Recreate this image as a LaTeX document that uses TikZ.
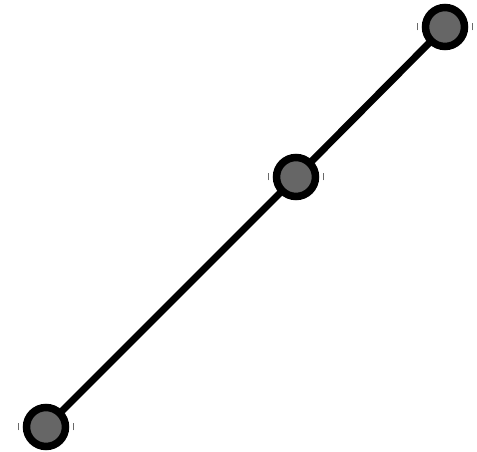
\documentclass[tikz,border=0pt]{standalone}
\usepackage{tikz}
\usetikzlibrary{positioning}
\definecolor{vfill}{HTML}{666666}
\definecolor{tickgray}{HTML}{6A6A6A}
\tikzset{
  vertex/.style={circle,draw=black,fill=vfill,line width=0.15cm,
    minimum size=0.78cm,inner sep=0pt},
  edgeline/.style={line width=0.14cm,black},
  tickmark/.style={tickgray,line width=0.025cm}
}
\begin{document}
\begin{tikzpicture}[x=0.02cm,y=-0.02cm]
  \useasboundingbox (0,0) rectangle (477,452);
  % points
  \coordinate (pa) at (46,427);
  \coordinate (pb) at (296,177);
  \coordinate (pc) at (445,27);
  \draw[edgeline] (pa) -- (pb) -- (pc);
  \node[vertex] (a) at (pa) {};
  \node[vertex] (b) at (pb) {};
  \node[vertex] (c) at (pc) {};
  % small marks beside each point
  \foreach \v in {a,b,c}{
    \draw[tickmark] ([xshift=-0.55cm,yshift=-0.07cm]\v.center) -- ([xshift=-0.55cm,yshift=0.07cm]\v.center);
    \draw[tickmark] ([xshift=0.55cm,yshift=-0.07cm]\v.center) -- ([xshift=0.55cm,yshift=0.07cm]\v.center);
  }
\end{tikzpicture}
\end{document}
